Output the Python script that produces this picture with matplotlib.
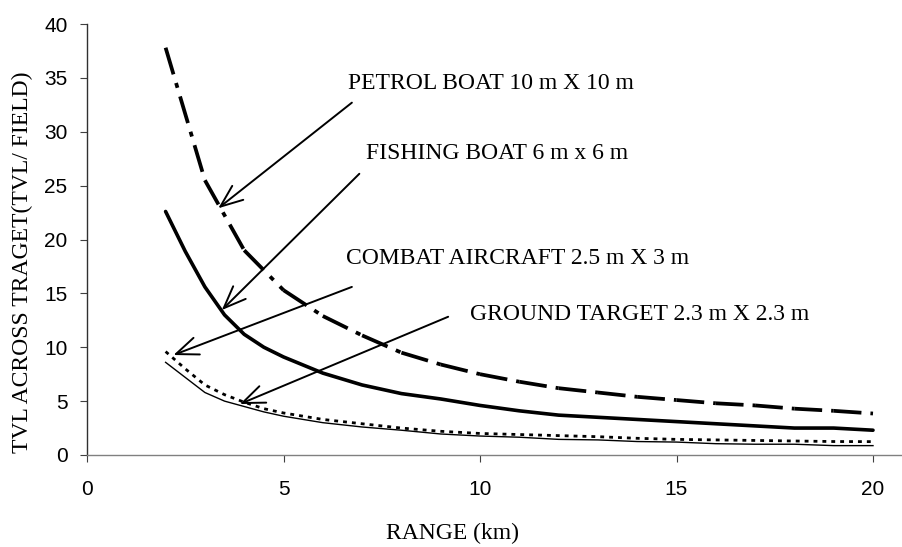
import matplotlib
matplotlib.use("Agg")
import matplotlib.pyplot as plt

plt.rcParams['lines.scale_dashes'] = False

# ---------------- data ----------------
range_km = [2, 3, 4, 5, 6, 7, 8, 9, 10, 11, 12, 13, 14, 15, 16, 17, 18, 19, 20]
petrol_boat = [37.8, 25.5, 19.0, 15.3, 12.9, 11.1, 9.5, 8.4, 7.5, 6.8, 6.2,
               5.8, 5.4, 5.1, 4.8, 4.6, 4.3, 4.1, 3.85]

range_fine = [2, 2.5, 3, 3.5, 4, 4.5, 5, 6, 7, 8, 9, 10, 11, 12, 13, 14, 15,
              16, 17, 18, 19, 20]
fishing_boat = [22.6, 18.9, 15.6, 13.0, 11.2, 10.0, 9.1, 7.6, 6.5, 5.7, 5.2,
                4.6, 4.1, 3.7, 3.5, 3.3, 3.1, 2.9, 2.7, 2.5, 2.5, 2.3]
combat_aircraft = [9.6, 8.0, 6.5, 5.6, 4.9, 4.3, 3.9, 3.3, 2.9, 2.5, 2.2,
                   2.0, 1.9, 1.8, 1.7, 1.55, 1.45, 1.4, 1.35, 1.3, 1.25, 1.24]
ground_target = [8.6, 7.2, 5.8, 5.0, 4.5, 4.0, 3.6, 3.0, 2.6, 2.3, 1.95,
                 1.76, 1.65, 1.45, 1.4, 1.25, 1.2, 1.05, 1.0, 1.0, 0.87, 0.87]

labels = ["PETROL BOAT 10 m X 10 m", "FISHING BOAT 6 m x 6 m",
          "COMBAT AIRCRAFT 2.5 m X 3 m", "GROUND TARGET 2.3 m X 2.3 m"]
label_xy = [(6.65, 34.5), (7.1, 28.0), (6.6, 18.25), (9.75, 13.0)]
arrow_start = [(6.74, 32.7), (6.93, 26.1), (6.74, 15.6), (9.19, 12.83)]
arrow_tip = [(3.34, 22.9), (3.43, 13.45), (2.2, 9.28), (3.89, 4.73)]

x_ticks = [0, 5, 10, 15, 20]
y_ticks = [0, 5, 10, 15, 20, 25, 30, 35, 40]

# ---------------- figure ----------------
fig = plt.figure(figsize=(9.02, 5.47), dpi=100)
ax = fig.add_axes([87/902, 1-455/547, 1-87/902, (455-24)/547])

serif = ['Liberation Serif', 'DejaVu Serif']
sans = ['Liberation Sans', 'DejaVu Sans']

# petrol boat: long-dash-dot pattern restarting on every segment
for i in range(len(range_km) - 1):
    ax.plot(range_km[i:i+2], petrol_boat[i:i+2], color='black', lw=2.7,
            dashes=(20, 6.5, 3.6, 6.5), solid_capstyle='butt',
            dash_capstyle='butt')
ax.plot(range_fine, fishing_boat, color='black', lw=2.6,
        solid_capstyle='round', solid_joinstyle='round')
ax.plot(range_fine, combat_aircraft, color='black', lw=2.0,
        dashes=(2.8, 3.6), dash_capstyle='butt')
ax.plot(range_fine, ground_target, color='black', lw=1.0)

for lab, lxy, s, t in zip(labels, label_xy, arrow_start, arrow_tip):
    ax.text(lxy[0], lxy[1], lab, family=serif, fontsize=17, va='center',
            ha='left', color='black')
    ax.annotate('', xy=t, xytext=s,
                arrowprops=dict(arrowstyle='->,head_length=0.8,head_width=0.32',
                                color='black', lw=1.4, shrinkA=0, shrinkB=0,
                                mutation_scale=20))

ax.set_xlim(0, (902-87)/((873-87)/20))
ax.set_ylim(0, 40)
ax.set_xticks(x_ticks)
ax.set_yticks(y_ticks)
ax.set_xticklabels([str(v) for v in x_ticks], family=sans, fontsize=15)
ax.set_yticklabels([str(v) for v in y_ticks], family=sans, fontsize=15)
ax.tick_params(axis='x', direction='out', length=5, width=0.8,
               color='#404040', pad=13)
ax.tick_params(axis='y', direction='out', length=5, width=0.8,
               color='#404040', pad=9)

for side in ['top', 'right']:
    ax.spines[side].set_visible(False)
for side in ['left', 'bottom']:
    ax.spines[side].set_color('#808080')
    ax.spines[side].set_linewidth(1.0)
ax.spines['left'].set_color('#303030')

fig.text(453/902, 1-533/547, "RANGE (km)", family=serif, fontsize=17,
         ha='center', va='center')
fig.text(22/902, 1-262/547, "TVL ACROSS TRAGET(TVL/ FIELD)", family=serif,
         fontsize=17, ha='center', va='center', rotation=90)

fig.savefig("out.png", dpi=100)
